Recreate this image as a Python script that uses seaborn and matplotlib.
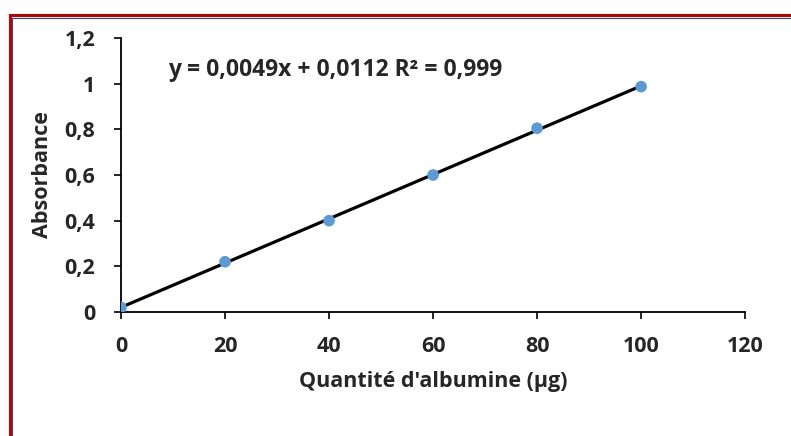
import numpy as np
import pandas as pd
import matplotlib
matplotlib.use("Agg")
import matplotlib.pyplot as plt
import seaborn as sns
from matplotlib.patches import Rectangle
from matplotlib.ticker import FuncFormatter

quantite = [0, 20, 40, 60, 80, 100]
absorbance = [0.02, 0.22, 0.40, 0.60, 0.805, 0.987]
equation = "y = 0,0049x + 0,0112 R² = 0,999"
xlabel = "Quantité d'albumine (µg)"
ylabel = "Absorbance"

df = pd.DataFrame({"q": quantite, "a": absorbance})

sns.set_style("white")
plt.rcParams['font.family'] = ['Open Sans', 'DejaVu Sans']
plt.rcParams['font.weight'] = 'bold'

fig = plt.figure(figsize=(7.91, 4.36), dpi=100)
ax = fig.add_axes([0.153, 0.2844, 0.789, 0.6284])

sns.regplot(data=df, x="q", y="a", ax=ax, ci=None, truncate=True,
            scatter_kws=dict(color="#5B9BD5", s=70, zorder=3, edgecolor="none", alpha=1),
            line_kws=dict(color="black", lw=2.3, zorder=2))

def yfmt(v, p):
    s = f"{v:.1f}".replace(".", ",")
    return s[:-2] if s.endswith(",0") else s

ax.set_xlim(0, 120)
ax.set_ylim(0, 1.2)
ax.set_xticks(np.arange(0, 121, 20))
ax.set_yticks(np.arange(0, 1.21, 0.2))
ax.yaxis.set_major_formatter(FuncFormatter(yfmt))
for s in ["top", "right"]:
    ax.spines[s].set_visible(False)
for s in ["left", "bottom"]:
    ax.spines[s].set_color("black")
    ax.spines[s].set_linewidth(1.3)
ax.tick_params(axis="both", which="major", direction="out", length=5, width=1.2,
               color="black", labelsize=15.5, left=True, bottom=True)
ax.tick_params(axis="x", pad=12)
ax.tick_params(axis="y", pad=13.5)
for lab in ax.get_xticklabels() + ax.get_yticklabels():
    lab.set_fontweight("bold")
ax.set_xlabel(xlabel, fontsize=15.5, fontweight="bold", labelpad=10)
ax.set_ylabel(ylabel, fontsize=15.5, fontweight="bold", labelpad=8)
ax.text(9.0, 1.06, equation, fontsize=16.5, fontweight="bold", va="center", ha="left")

# border frame
fig.patches.append(Rectangle((9.5/791, -0.1), 1.2, 1 - 15.5/436 + 0.1, transform=fig.transFigure,
                             fill=False, edgecolor="#C00000", linewidth=2.2, zorder=10))
fig.patches.append(Rectangle((11.5/791, -0.1), 1.2, 1 - 17.5/436 + 0.1, transform=fig.transFigure,
                             fill=False, edgecolor="#2F4A8A", linewidth=0.8, zorder=10))

fig.savefig("out.png", dpi=100)
